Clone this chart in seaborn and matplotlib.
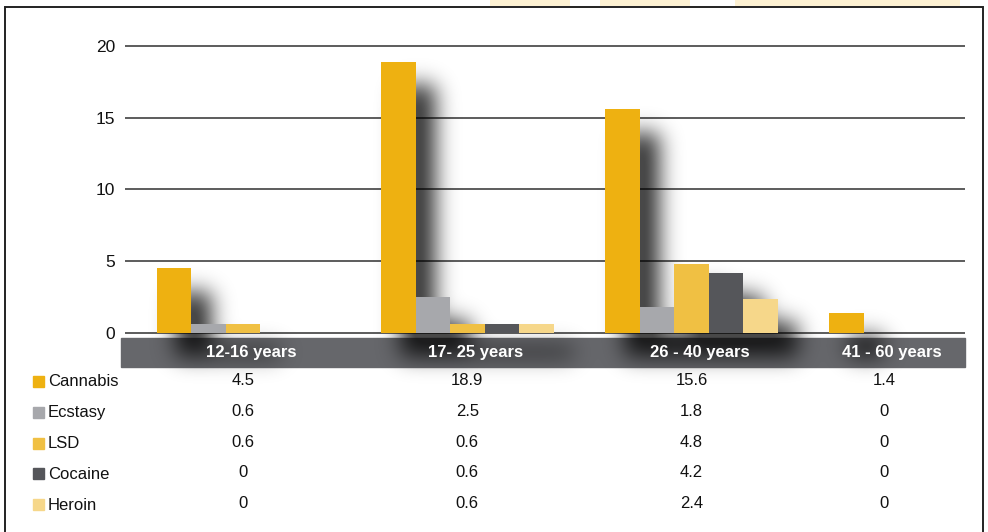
import numpy as np
import pandas as pd
import matplotlib.pyplot as plt
import matplotlib.transforms as mtransforms
from matplotlib.patches import Rectangle
import seaborn as sns

groups = ["12-16 years", "17- 25 years", "26 - 40 years", "41 - 60 years"]
drugs = ["Cannabis", "Ecstasy", "LSD", "Cocaine", "Heroin"]
cannabis = [4.5, 18.9, 15.6, 1.4]
ecstasy = [0.6, 2.5, 1.8, 0]
lsd = [0.6, 0.6, 4.8, 0]
cocaine = [0, 0.6, 4.2, 0]
heroin = [0, 0.6, 2.4, 0]
table_text = [["4.5", "18.9", "15.6", "1.4"],
              ["0.6", "2.5", "1.8", "0"],
              ["0.6", "0.6", "4.8", "0"],
              ["0", "0.6", "4.2", "0"],
              ["0", "0.6", "2.4", "0"]]
colors = ["#EEB111", "#A7A8AC", "#F0C043", "#55565A", "#F6D78A"]
yticks = [0, 5, 10, 15, 20]

values = dict(zip(drugs, [cannabis, ecstasy, lsd, cocaine, heroin]))
df = pd.DataFrame([(g, d, values[d][i]) for d in drugs for i, g in enumerate(groups)],
                  columns=["group", "drug", "value"])

W, H = 988, 532
sns.set_style("white")
plt.rcParams["font.family"] = ["Liberation Sans", "DejaVu Sans"]


def fx(px):
    return px / W


def fy(py):
    return 1 - py / H


fig = plt.figure(figsize=(W / 100, H / 100), dpi=100)
ppu = (333 - 46) / 20  # pixels per unit on y
ylo, yhi = -0.15, 20.15
ax = fig.add_axes([fx(125), fy(333 - ylo * ppu), fx(965) - fx(125), (yhi - ylo) * ppu / H])

sns.barplot(data=df, x="group", y="value", hue="drug", order=groups, hue_order=drugs,
            palette=colors, width=0.77, saturation=1, errorbar=None, legend=False,
            ax=ax, zorder=3, linewidth=0, edgecolor="none")
bars = list(ax.patches)

xlim = (-0.527, 3.22)
ax.set_xlim(xlim)
ax.set_ylim(ylo, yhi)
ax.set_yticks(yticks)
ax.set_xlabel("")
ax.set_ylabel("")
ax.yaxis.grid(True, color="#4f4f4f", lw=1.3)
ax.set_axisbelow(True)
ax.tick_params(axis="x", labelbottom=False, length=0)
ax.tick_params(axis="y", length=0, pad=7, labelsize=12.5, labelcolor="#111111")
sns.despine(ax=ax, left=True, bottom=True)

# dark category band under the plot
band = Rectangle((fx(121), fy(367)), fx(965) - fx(121), (367 - 338) / H,
                 transform=fig.transFigure, color="#66676B", zorder=1, clip_on=False)
ax.add_artist(band)

blend = mtransforms.blended_transform_factory(ax.transData, fig.transFigure)
label_shift = 8 / 224
for i, g in enumerate(groups):
    lo, hi = max(i - 0.5, xlim[0]), min(i + 0.5, xlim[1])
    xc = (lo + hi) / 2
    ax.text(xc + label_shift, fy(352.5), g, transform=blend, ha="center", va="center",
            color="white", fontsize=12, fontweight="bold", zorder=5, clip_on=False)

# data table
for r, d in enumerate(drugs):
    yc = 382 + 30.8 * r
    fig.add_artist(Rectangle((fx(33), fy(yc + 5)), 11 / W, 11 / H,
                             transform=fig.transFigure, color=colors[r]))
    fig.text(fx(48), fy(yc), d, ha="left", va="center", fontsize=12, color="#111111")
    for i in range(len(groups)):
        lo, hi = max(i - 0.5, xlim[0]), min(i + 0.5, xlim[1])
        xc = (lo + hi) / 2
        ax.text(xc, fy(yc - 1.5), table_text[r][i], transform=blend, ha="center",
                va="center", fontsize=12, color="#111111", clip_on=False)

# frame and faint header watermark
fig.add_artist(Rectangle((fx(5), fy(545)), fx(983) - fx(5), (545 - 7) / H, fill=False,
                         ec="#222222", lw=1.4, transform=fig.transFigure))
for a, b in [(490, 570), (600, 690), (735, 960)]:
    fig.add_artist(Rectangle((fx(a), fy(6)), (b - a) / W, 6 / H, color="#FDF1D2",
                             lw=0, transform=fig.transFigure))

# soft drop shadow behind the bars
fig.canvas.draw()
dx, dy, sigma = 20, 24, 11
mask = np.zeros((H, W))
for b in bars:
    bb = b.get_window_extent()
    if bb.height < 1:
        continue
    r0, r1 = int(H - bb.y1 + dy), int(H - bb.y0 + dy)
    c0, c1 = int(bb.x0 + dx), int(bb.x1 + dx)
    mask[max(r0, 0):min(r1, H), max(c0, 0):min(c1, W)] = 1
k = np.exp(-0.5 * (np.arange(-3 * sigma, 3 * sigma + 1) / sigma) ** 2)
k /= k.sum()
blur = np.apply_along_axis(lambda v: np.convolve(v, k, mode="same"), 1, mask)
blur = np.apply_along_axis(lambda v: np.convolve(v, k, mode="same"), 0, blur)
img = np.zeros((H, W, 4))
img[..., 3] = np.clip(blur * 1.15, 0, 1) * 0.72
inv = ax.transData.inverted()
x0d, y0d = inv.transform((0, 0))
x1d, y1d = inv.transform((W, H))
ax.imshow(img, extent=(x0d, x1d, y0d, y1d), aspect="auto", zorder=2, clip_on=False,
          interpolation="bilinear")
ax.set_xlim(xlim)
ax.set_ylim(ylo, yhi)

fig.savefig("out.png", dpi=100)
